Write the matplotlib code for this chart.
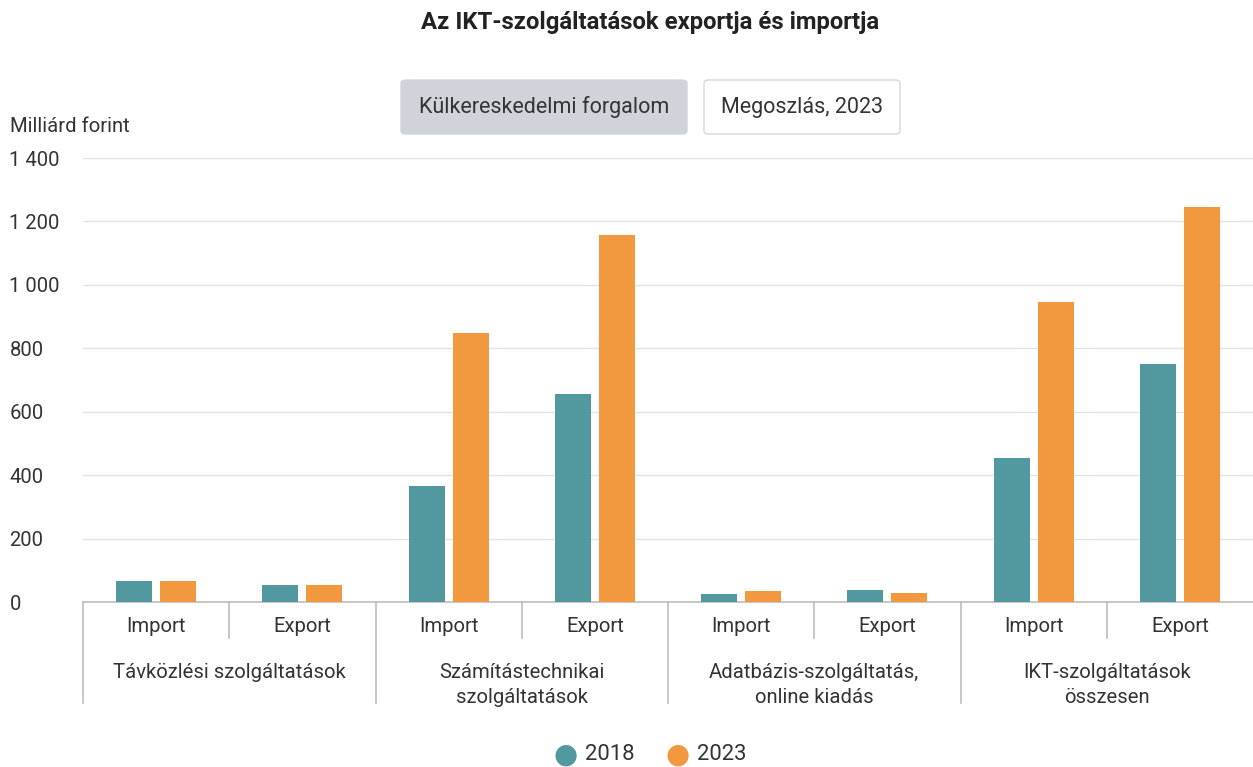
import matplotlib.pyplot as plt
from matplotlib.patches import FancyBboxPatch
import matplotlib.transforms as mtransforms
import numpy as np

plt.rcParams['font.family'] = ['Roboto', 'DejaVu Sans']

categories = ['Távközlési szolgáltatások', 'Számítástechnikai\nszolgáltatások',
              'Adatbázis-szolgáltatás,\nonline kiadás', 'IKT-szolgáltatások\nösszesen']
subcats = ['Import', 'Export']
# order: cat0 Import, cat0 Export, cat1 Import, ...
vals_2018 = [67, 53, 366, 656, 24, 39, 454, 750]
vals_2023 = [67, 53, 848, 1157, 34, 28, 946, 1245]
yticks = [0, 200, 400, 600, 800, 1000, 1200, 1400]
ytick_labels = ['0', '200', '400', '600', '800', '1 000', '1 200', '1 400']
series_names = ['2018', '2023']
colors = ['#52989f', '#f2993f']

W, H = 1253, 767
fig = plt.figure(figsize=(W / 100, H / 100), dpi=100)
ax = fig.add_axes([83 / W, 1 - 602 / H, (1253 - 83) / W, (602 - 158) / H])

n = len(vals_2018)
x = np.arange(n) + 0.5
bw = 0.246
off = 0.15
ax.bar(x - off, vals_2018, width=bw, color=colors[0], zorder=3)
ax.bar(x + off, vals_2023, width=bw, color=colors[1], zorder=3)

fs = 14.6
ax.set_xlim(0, n)
ax.set_ylim(0, 1400)
ax.set_yticks(yticks)
ax.set_yticklabels(ytick_labels, fontsize=fs, color='#333333', ha='left')
ax.tick_params(axis='y', length=0, pad=53)
ax.set_xticks([])
ax.grid(axis='y', color='#e3e3e3', lw=1, zorder=0)
for s in ['top', 'right', 'left']:
    ax.spines[s].set_visible(False)
ax.spines['bottom'].set_color('#bdbdbd')
ax.spines['bottom'].set_linewidth(1.2)

# category axis lines and labels (in pixels below the axis)
trans = mtransforms.blended_transform_factory(ax.transData, fig.transFigure)
def fy(py):
    return 1 - py / H

for i in range(n + 1):
    if i % 2 == 0:
        if i == n:
            continue
        ax.plot([i, i], [fy(602), fy(703)], transform=trans, color='#bdbdbd', lw=1.2, clip_on=False)
    else:
        ax.plot([i, i], [fy(602), fy(638)], transform=trans, color='#bdbdbd', lw=1.2, clip_on=False)

for i in range(n):
    ax.text(i + 0.5, fy(627), subcats[i % 2], transform=trans, ha='center', va='center',
            fontsize=fs, color='#333333')
for j, c in enumerate(categories):
    ax.text(2 * j + 1, fy(663), c, transform=trans, ha='center', va='top',
            fontsize=fs, color='#333333', linespacing=1.4)

# title and axis label
fig.text(650 / W, fy(23), 'Az IKT-szolgáltatások exportja és importja', ha='center', va='center',
         fontsize=17.2, fontweight='bold', color='#222222')
fig.text(10 / W, fy(127), 'Milliárd forint', ha='left', va='center', fontsize=fs, color='#333333')

# buttons
b1 = FancyBboxPatch((401 / W, fy(134)), 286 / W, 54 / H, boxstyle='round,pad=0,rounding_size=0.004',
                    transform=fig.transFigure, facecolor='#d0d4da', edgecolor='#d0d4da', lw=1)
b2 = FancyBboxPatch((704 / W, fy(134)), 196 / W, 54 / H, boxstyle='round,pad=0,rounding_size=0.004',
                    transform=fig.transFigure, facecolor='white', edgecolor='#d8d8d8', lw=1)
fig.add_artist(b1)
fig.add_artist(b2)
fig.text(544 / W, fy(107), 'Külkereskedelmi forgalom', ha='center', va='center', fontsize=15.5, color='#333333')
fig.text(802 / W, fy(107), 'Megoszlás, 2023', ha='center', va='center', fontsize=15.5, color='#333333')

# legend
for cx, tx, name, col in [(566, 585, series_names[0], colors[0]), (678, 697, series_names[1], colors[1])]:
    fig.text(cx / W, fy(755), '\u25CF', ha='center', va='center', fontsize=20, color=col,
             family=['DejaVu Sans'])
    fig.text(tx / W, fy(755), name, ha='left', va='center', fontsize=15.8, color='#333333')

fig.savefig('out.png', dpi=100)
